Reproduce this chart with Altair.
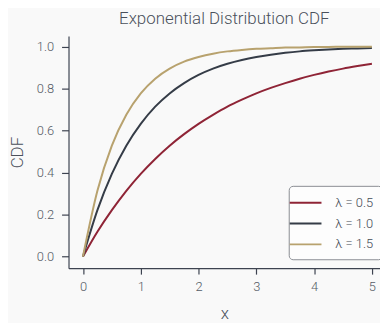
import altair as alt
import pandas as pd

x_vals = [0, 0.25, 0.5, 0.75, 1, 1.25, 1.5, 1.75, 2, 2.25, 2.5, 2.75, 3,
          3.25, 3.5, 3.75, 4, 4.25, 4.5, 4.75, 5]
cdf_05 = [0, 0.118, 0.221, 0.313, 0.394, 0.465, 0.528, 0.583, 0.632, 0.675,
          0.714, 0.747, 0.777, 0.803, 0.826, 0.847, 0.865, 0.881, 0.895, 0.907, 0.918]
cdf_10 = [0, 0.221, 0.394, 0.528, 0.632, 0.714, 0.777, 0.826, 0.865, 0.895,
          0.918, 0.936, 0.950, 0.961, 0.970, 0.977, 0.982, 0.986, 0.989, 0.991, 0.993]
cdf_15 = [0, 0.313, 0.528, 0.675, 0.777, 0.847, 0.895, 0.928, 0.950, 0.966,
          0.977, 0.984, 0.989, 0.992, 0.995, 0.996, 0.998, 0.998, 0.999, 0.999, 0.999]
series = ["λ = 0.5", "λ = 1.0", "λ = 1.5"]
colors = ["#8f2436", "#353c47", "#b8a26e"]

rows = []
for name, vals in zip(series, [cdf_05, cdf_10, cdf_15]):
    for xv, yv in zip(x_vals, vals):
        rows.append({"x": xv, "cdf": yv, "series": name})
df = pd.DataFrame(rows)

FONT = "Roboto"
chart = alt.Chart(df).mark_line(strokeWidth=2, interpolate="monotone").encode(
    x=alt.X("x:Q", title="x",
            scale=alt.Scale(domain=[-0.25, 5.14], nice=False, zero=False),
            axis=alt.Axis(values=[0, 1, 2, 3, 4, 5], format="d", grid=False,
                          tickSize=6, labelPadding=7, titlePadding=12)),
    y=alt.Y("cdf:Q", title="CDF",
            scale=alt.Scale(domain=[-0.055, 1.05], nice=False, zero=False),
            axis=alt.Axis(values=[0, 0.2, 0.4, 0.6, 0.8, 1.0], format=".1f", grid=False,
                          tickSize=7, labelPadding=8, titlePadding=10)),
    color=alt.Color("series:N", scale=alt.Scale(domain=series, range=colors),
                    legend=alt.Legend(title=None, orient="none", legendX=222, legendY=151,
                                      symbolType="M-2,0H2", symbolSize=256,
                                      symbolStrokeWidth=2, labelOffset=21,
                                      rowPadding=5, padding=8,
                                      fillColor="#fdfdfd", strokeColor="#8a8d93",
                                      cornerRadius=4, labelFontSize=13,
                                      labelFontWeight=300,
                                      labelColor="#444a55", labelFont=FONT)),
).properties(
    width=314, height=234,
    title=alt.TitleParams("Exponential Distribution CDF", fontSize=17, font=FONT,
                          fontWeight=300, color="#4a505b", offset=8,
                          anchor="middle"),
    autosize=alt.AutoSizeParams(type="none"),
    padding={"left": 61, "top": 27, "right": 0, "bottom": 55},
    background="#f9f9f9",
).configure_view(stroke=None).configure_axis(
    domainColor="#3d4350", tickColor="#3d4350", labelColor="#555b66",
    titleColor="#4a505b", labelFont=FONT, titleFont=FONT, labelFontSize=13,
    labelFontWeight=300,
    titleFontSize=17, titleFontWeight=300, domainWidth=1.2, tickWidth=1.2,
)

chart.save("out.html", embed_options={"renderer": "svg", "actions": False})
